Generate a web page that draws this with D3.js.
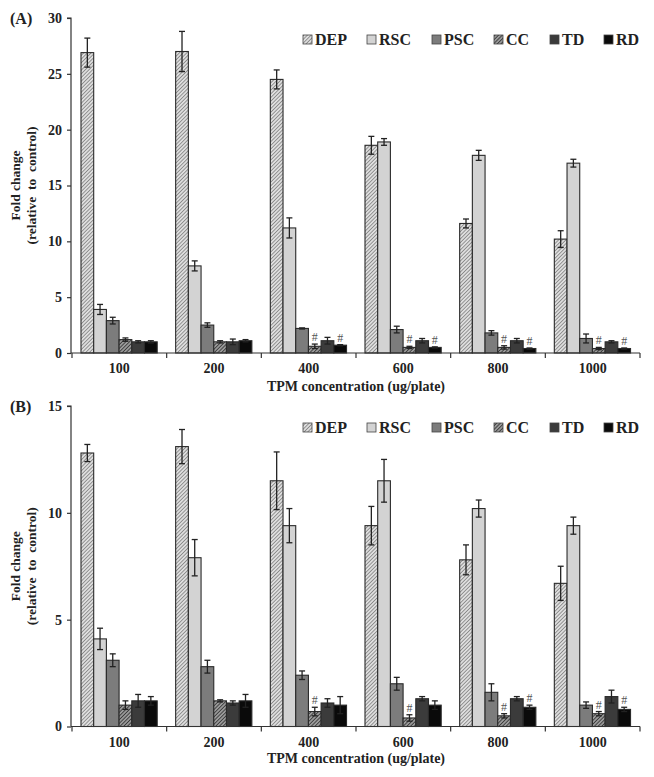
<!DOCTYPE html>
<html><head><meta charset="utf-8">
<script src="https://cdn.jsdelivr.net/npm/d3@7/dist/d3.min.js"></script>
<style>body{margin:0;background:#fff}svg{display:block}</style>
</head><body>
<svg id="c" width="654" height="777"></svg>
<script>
const categories = ["100","200","400","600","800","1000"];
const series = ["DEP","RSC","PSC","CC","TD","RD"];
// Panel A
const A_DEP = [26.9,27.0,24.5,18.6,11.6,10.2];
const A_RSC = [3.9,7.8,11.2,18.9,17.7,17.0];
const A_PSC = [2.9,2.5,2.2,2.1,1.8,1.3];
const A_CC  = [1.2,1.0,0.6,0.5,0.5,0.4];
const A_TD  = [1.0,1.0,1.1,1.1,1.1,1.0];
const A_RD  = [1.0,1.1,0.7,0.5,0.4,0.4];
const A_DEP_err = [1.3,1.8,0.85,0.8,0.4,0.75];
const A_RSC_err = [0.45,0.45,0.9,0.3,0.45,0.35];
const A_PSC_err = [0.3,0.2,0.05,0.3,0.2,0.4];
const A_CC_err  = [0.15,0.1,0.2,0.1,0.15,0.1];
const A_TD_err  = [0.1,0.25,0.3,0.2,0.2,0.1];
const A_RD_err  = [0.1,0.1,0.05,0.05,0.05,0.05];
const A_hashCC = [false,false,true,true,true,true];
const A_hashRD = [false,false,true,true,true,true];
// Panel B
const B_DEP = [12.8,13.1,11.5,9.4,7.8,6.7];
const B_RSC = [4.1,7.9,9.4,11.5,10.2,9.4];
const B_PSC = [3.1,2.8,2.4,2.0,1.6,1.0];
const B_CC  = [1.0,1.2,0.7,0.4,0.5,0.6];
const B_TD  = [1.2,1.1,1.1,1.3,1.3,1.4];
const B_RD  = [1.2,1.2,1.0,1.0,0.9,0.8];
const B_DEP_err = [0.4,0.8,1.35,0.9,0.7,0.8];
const B_RSC_err = [0.5,0.85,0.8,1.0,0.4,0.4];
const B_PSC_err = [0.3,0.3,0.2,0.3,0.4,0.15];
const B_CC_err  = [0.2,0.05,0.2,0.15,0.1,0.1];
const B_TD_err  = [0.3,0.1,0.2,0.1,0.1,0.3];
const B_RD_err  = [0.2,0.3,0.4,0.2,0.1,0.1];
const B_hashCC = [false,false,true,true,true,true];
const B_hashRD = [false,false,false,false,true,true];
const A_ticks = [0,5,10,15,20,25,30];
const B_ticks = [0,5,10,15];

const svg = d3.select("#c");
const font = "'Liberation Serif','Times New Roman',serif";
const defs = svg.append("defs");
function hatch(id, bg, line, gap, lw){
  const p = defs.append("pattern").attr("id",id).attr("patternUnits","userSpaceOnUse")
    .attr("width",gap).attr("height",gap).attr("patternTransform","rotate(45)");
  p.append("rect").attr("width",gap).attr("height",gap).attr("fill",bg);
  p.append("line").attr("x1",0).attr("y1",0).attr("x2",0).attr("y2",gap)
    .attr("stroke",line).attr("stroke-width",lw);
}
hatch("hDEP","#dedede","#4a4a4a",2.6,1);
hatch("hCC","#9a9a9a","#222",2.6,1.4);
const fills = {DEP:"url(#hDEP)",RSC:"#d3d3d3",PSC:"#7c7c7c",CC:"url(#hCC)",TD:"#3b3b3b",RD:"#0a0a0a"};

function panel(o){
  const g = svg.append("g");
  const x = d3.scaleBand().domain(categories).range([72,640]).padding(0);
  const bw = x.bandwidth();
  const xi = d3.scaleBand().domain(series).range([bw*0.095, bw*0.9]).padding(0);
  const y = d3.scaleLinear().domain([0,o.max]).range([o.y0,o.y1]);
  series.forEach((s,si)=>{
    const vals=o.vals[si], errs=o.errs[si];
    categories.forEach((c,ci)=>{
      const bx = x(c)+xi(s), w = xi.bandwidth();
      g.append("rect").attr("x",bx).attr("y",y(vals[ci])).attr("width",w)
        .attr("height",y(0)-y(vals[ci])).attr("fill",fills[s])
        .attr("stroke","#2a2a2a").attr("stroke-width",1.1);
      const cx = bx+w/2, e=errs[ci];
      const eg = g.append("g").attr("stroke","#222").attr("stroke-width",1.3);
      eg.append("line").attr("x1",cx).attr("x2",cx).attr("y1",y(vals[ci]+e)).attr("y2",y(vals[ci]-e));
      eg.append("line").attr("x1",cx-3).attr("x2",cx+3).attr("y1",y(vals[ci]+e)).attr("y2",y(vals[ci]+e));
      eg.append("line").attr("x1",cx-3).attr("x2",cx+3).attr("y1",y(vals[ci]-e)).attr("y2",y(vals[ci]-e));
      const hs = s==="CC"?o.hashCC[ci]:(s==="RD"?o.hashRD[ci]:false);
      if(hs){
        g.append("text").attr("x",cx).attr("y",y(vals[ci]+e)-3).attr("text-anchor","middle")
          .attr("font-family",font).attr("font-size",12).attr("fill","#555").text("#");
      }
    });
  });
  const ya = g.append("g").attr("transform","translate(71,0)")
    .call(d3.axisLeft(y).tickValues(o.ticks).tickSize(4).tickPadding(5).tickFormat(d3.format("d")));
  ya.select(".domain").attr("stroke","#333").attr("stroke-width",1.2).attr("d",`M-4,${y(o.max)}H0V${y(0)}`);
  ya.selectAll(".tick line").attr("stroke","#333").attr("stroke-width",1.2);
  ya.selectAll("text").attr("font-family",font).attr("font-size",14).attr("font-weight","bold").attr("fill","#222");
  const xa = g.append("g").attr("transform",`translate(0,${y(0)})`);
  xa.append("line").attr("x1",71).attr("x2",640).attr("y1",0).attr("y2",0).attr("stroke","#333").attr("stroke-width",1.2);
  const bounds = categories.map(c=>x(c)).concat([x(categories[categories.length-1])+bw]);
  xa.selectAll("line.tk").data(bounds).join("line").attr("class","tk")
    .attr("x1",d=>d).attr("x2",d=>d).attr("y1",0).attr("y2",5).attr("stroke","#333").attr("stroke-width",1.2);
  xa.selectAll("text.cat").data(categories).join("text").attr("class","cat")
    .attr("x",d=>x(d)+bw/2).attr("y",20).attr("text-anchor","middle")
    .attr("font-family",font).attr("font-size",14).attr("font-weight","bold").attr("fill","#222").text(d=>d);
  xa.append("text").attr("x",356).attr("y",o.titleDy).attr("text-anchor","middle")
    .attr("font-family",font).attr("font-size",14).attr("font-weight","bold").attr("fill","#222")
    .text("TPM concentration (ug/plate)");
  const ym = (y(0)+y(o.max))/2 + o.ylabOff;
  const yt = g.append("text").attr("transform",`translate(24,${ym}) rotate(-90)`).attr("text-anchor","middle")
    .attr("font-family",font).attr("font-size",13.5).attr("font-weight","bold").attr("fill","#222")
    .style("white-space","pre");
  yt.append("tspan").attr("x",0).attr("dy",-4).text("Fold change");
  yt.append("tspan").attr("x",0).attr("dy",16).text("(relative  to  control)");
  g.append("text").attr("x",10).attr("y",y(o.max)+6).attr("font-family",font).attr("font-size",16)
    .attr("font-weight","bold").attr("fill","#222").text(o.label);
  const lx = [303,367,432,494,550,604];
  series.forEach((s,i)=>{
    g.append("rect").attr("x",lx[i]).attr("y",o.legY-5).attr("width",9).attr("height",9)
      .attr("fill",fills[s]).attr("stroke","#444").attr("stroke-width",0.8);
    g.append("text").attr("x",lx[i]+12).attr("y",o.legY+5).attr("font-family",font).attr("font-size",16)
      .attr("font-weight","bold").attr("fill","#222").text(s);
  });
}
panel({max:30,y0:353,y1:18,ticks:A_ticks,label:"(A)",legY:40,titleDy:38,ylabOff:0,
  vals:[A_DEP,A_RSC,A_PSC,A_CC,A_TD,A_RD],errs:[A_DEP_err,A_RSC_err,A_PSC_err,A_CC_err,A_TD_err,A_RD_err],
  hashCC:A_hashCC,hashRD:A_hashRD});
panel({max:15,y0:726.5,y1:406,ticks:B_ticks,label:"(B)",legY:428,titleDy:36,ylabOff:0,
  vals:[B_DEP,B_RSC,B_PSC,B_CC,B_TD,B_RD],errs:[B_DEP_err,B_RSC_err,B_PSC_err,B_CC_err,B_TD_err,B_RD_err],
  hashCC:B_hashCC,hashRD:B_hashRD});
</script>
</body></html>
